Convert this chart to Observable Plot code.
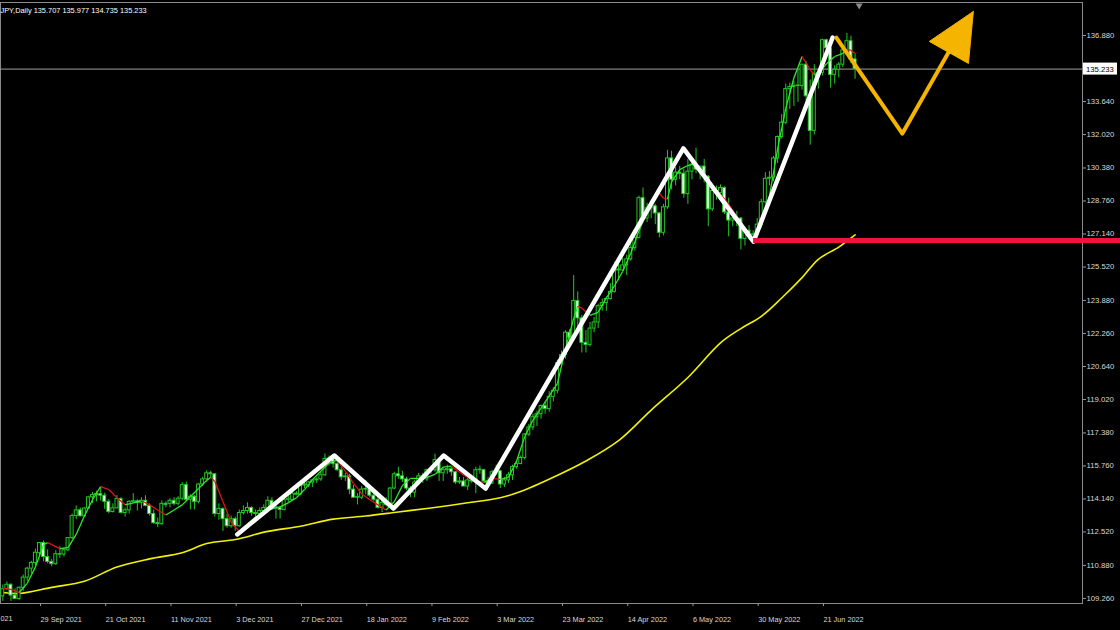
<!DOCTYPE html>
<html><head><meta charset="utf-8">
<script src="https://cdn.jsdelivr.net/npm/d3@7"></script>
<script src="https://cdn.jsdelivr.net/npm/@observablehq/plot@0.6"></script>
<style>
html,body{margin:0;padding:0;background:#000;overflow:hidden}
#chart{width:1120px;height:630px}
</style></head><body><div id="chart"></div>
<script>
// ---- header ----
const symbolLabel = "JPY,Daily";
const headerOHLC = [135.707, 135.977, 134.735, 135.233];
const currentPrice = 135.233;

// ---- daily candles (bar index = position in arrays) ----
const opens = [109.36,109.71,109.93,109.40,109.23,109.78,110.28,110.72,111.00,
111.48,111.98,111.29,111.05,110.94,111.43,111.41,111.62,112.22,113.30,113.58,113.29,113.67,114.22,114.33,114.38,
114.30,114.00,113.50,113.68,114.14,113.45,113.58,114.00,114.02,113.95,114.05,113.80,113.40,112.95,112.90,113.90,
113.90,114.05,113.90,114.15,114.82,114.10,114.25,114.00,114.85,115.10,115.40,115.35,113.40,113.65,113.15,112.80,
113.15,112.80,113.45,113.55,113.70,113.45,113.40,113.55,113.70,114.05,113.70,113.70,113.60,114.10,114.10,114.40,
114.35,114.85,114.80,114.95,115.05,115.10,115.30,116.10,116.10,115.85,115.55,115.20,115.25,114.60,114.20,114.20,
114.60,114.60,114.30,114.10,113.70,113.95,113.85,114.65,115.35,115.25,115.10,114.65,114.45,114.95,115.25,115.10,
115.55,115.55,116.05,115.40,115.55,115.60,115.45,114.95,115.00,114.75,115.05,115.00,115.55,115.55,115.00,114.90,
115.45,115.50,114.85,115.05,115.30,115.70,115.85,116.15,117.30,117.65,118.15,118.30,118.70,118.55,119.15,119.45,
120.80,121.20,122.30,122.05,123.85,123.00,121.80,121.70,122.50,122.80,123.60,123.75,123.95,124.30,125.40,125.35,
125.60,125.90,126.45,126.95,128.90,127.90,128.40,128.50,128.15,127.20,128.45,130.85,129.80,130.15,130.10,129.10,
130.20,130.55,130.30,130.45,129.95,128.35,129.25,129.15,129.40,128.20,127.80,127.90,127.90,126.90,127.30,127.10,
127.10,127.60,128.70,129.85,129.90,130.85,131.90,132.60,134.25,134.35,134.40,134.40,135.45,133.90,132.20,135.00,
135.05,136.65,136.25,134.95,135.20,135.45,136.15,136.60,135.707];
const highs = [109.92,110.07,109.97,109.73,109.82,110.41,110.79,111.08,111.68,
112.00,112.08,111.65,111.18,111.60,111.80,111.75,112.25,113.40,113.80,113.70,113.71,114.27,114.46,114.52,114.70,
114.42,114.10,113.90,114.30,114.20,113.70,114.05,114.40,114.10,114.20,114.30,113.90,113.60,113.20,114.05,114.00,
114.15,114.20,114.25,114.95,114.97,114.35,114.30,114.90,115.20,115.52,115.50,115.38,113.90,113.70,113.40,113.30,
113.25,113.60,113.80,113.95,113.75,113.60,113.70,113.85,114.25,114.20,113.85,113.75,114.20,114.35,114.50,114.50,
114.90,114.95,115.00,115.10,115.20,115.45,116.35,116.25,116.20,116.05,115.70,115.40,115.35,114.80,114.40,114.75,
115.05,114.80,114.60,114.20,114.05,114.20,114.70,115.45,115.70,115.50,115.20,114.75,115.05,115.40,115.40,115.60,
115.70,116.34,116.15,115.70,115.80,115.70,115.50,115.20,115.20,115.15,115.25,115.70,115.75,115.60,115.20,115.55,
115.80,115.55,115.20,115.45,115.80,116.00,116.25,117.35,117.80,118.30,118.45,118.75,118.90,119.40,119.60,120.95,
121.40,122.40,122.45,125.10,124.30,123.15,122.40,122.80,123.05,123.70,123.95,124.05,124.70,125.75,125.65,125.95,
126.10,126.70,127.10,129.00,129.40,128.65,128.80,128.60,128.20,128.60,131.25,131.20,130.40,130.45,130.30,130.80,
130.80,131.35,130.45,130.80,130.00,129.40,129.50,129.55,129.45,128.90,128.30,128.25,127.95,127.40,127.55,127.30,
127.90,128.85,130.15,130.20,130.95,131.95,133.00,134.50,134.55,134.65,135.20,135.45,135.60,134.70,135.45,135.15,
136.70,136.70,136.30,135.40,135.55,136.40,136.98,136.85,135.977];
const lows = [109.11,109.68,109.11,109.27,109.15,109.59,110.10,110.46,110.86,
111.33,111.05,110.96,110.81,110.88,111.22,111.29,111.55,112.15,113.12,113.26,113.23,113.63,113.91,114.00,114.03,
113.63,113.41,113.45,113.65,113.40,113.25,113.40,113.90,113.55,113.65,113.75,113.30,112.90,112.73,112.85,113.70,
113.70,113.80,113.80,114.05,114.00,113.60,113.60,113.90,114.75,114.95,115.15,113.25,113.10,112.55,112.70,112.70,
112.55,112.75,113.35,113.40,113.30,113.20,113.30,113.50,113.55,113.60,113.15,113.15,113.55,113.95,114.05,114.30,
114.30,114.65,114.70,114.70,114.90,115.00,115.25,115.75,115.65,115.50,115.05,115.00,114.35,114.20,113.85,114.10,
114.35,114.20,114.00,113.65,113.47,113.75,113.80,114.60,115.10,114.95,114.55,114.20,114.20,114.80,114.90,115.00,
115.35,115.45,115.00,115.00,115.35,115.25,114.85,114.85,114.75,114.55,114.90,114.40,115.35,114.95,114.70,114.85,
115.30,114.65,114.70,114.90,115.05,115.60,115.85,116.05,117.20,117.50,117.70,118.05,118.30,118.40,118.90,119.30,
120.60,121.00,121.60,121.90,122.45,121.30,121.30,121.60,122.30,122.50,123.35,123.35,123.90,124.25,124.85,125.30,
125.10,125.80,126.30,126.90,127.80,127.70,127.90,127.60,126.95,127.05,128.35,129.30,129.50,129.80,128.90,128.60,
129.80,130.10,129.80,129.65,127.50,128.25,128.80,128.95,128.10,127.00,127.50,127.50,126.36,126.55,126.85,126.70,
127.00,127.50,128.60,129.50,129.70,130.60,131.80,132.50,133.25,133.40,133.60,134.20,133.50,131.50,132.00,134.25,
134.90,135.85,134.30,134.50,134.80,135.30,136.00,135.50,134.735];
const closes = [109.71,109.93,109.40,109.23,109.78,110.28,110.72,111.00,111.50,
111.98,111.29,111.05,110.94,111.43,111.41,111.62,112.22,113.30,113.58,113.29,113.67,114.22,114.33,114.38,114.30,
114.00,113.50,113.68,114.14,113.45,113.58,114.00,114.02,113.95,114.05,113.80,113.40,112.95,112.90,113.90,113.85,
114.05,113.90,114.15,114.82,114.10,114.25,114.00,114.85,115.10,115.40,115.35,113.40,113.65,113.15,112.80,113.15,
112.80,113.45,113.55,113.70,113.45,113.40,113.55,113.70,114.05,113.70,113.70,113.60,114.10,114.10,114.40,114.35,
114.85,114.80,114.95,115.05,115.10,115.30,116.10,116.10,115.85,115.55,115.20,115.25,114.60,114.20,114.20,114.60,
114.60,114.30,114.10,113.70,113.95,113.85,114.65,115.35,115.25,115.10,114.65,114.45,114.95,115.25,115.10,115.55,
115.55,116.05,115.40,115.55,115.60,115.45,114.95,115.00,114.75,115.05,115.00,115.55,115.55,115.00,114.90,115.45,
115.50,114.85,115.05,115.30,115.70,115.85,116.15,117.30,117.65,118.15,118.30,118.70,118.55,119.15,119.45,120.80,
121.20,122.30,122.05,123.85,123.00,121.80,121.70,122.50,122.80,123.60,123.75,123.95,124.30,125.40,125.35,125.60,
125.90,126.45,126.95,128.90,127.90,128.40,128.50,128.15,127.20,128.45,130.85,129.80,130.15,130.10,129.10,130.20,
130.55,130.30,130.45,129.95,128.35,129.25,129.15,129.40,128.20,127.80,127.90,127.90,126.90,127.30,127.10,127.10,
127.60,128.70,129.85,129.90,130.85,131.90,132.60,134.25,134.35,134.40,134.40,135.45,133.90,132.20,135.00,135.05,
136.65,136.25,134.95,135.20,135.45,136.15,136.60,135.70,135.233];

// ---- fast smoothed average (green rising / red falling) ----
const fastIdx = [0,2,4,6,8,10,11,12,14,16,18,20,22,24,26,28,30,32,34,36,38,40,42,44,46,48,50,51,52,54,56,58,60,62,64,66,68,70,72,74,76,78,80,82,84,86,88,90,92,94,96,98,100,102,104,106,108,110,112,114,116,118,120,122,124,126,128,130,132,134,136,138,140,141,142,144,146,148,150,152,154,156,158,160,161,162,163,164,166,168,170,172,174,176,178,180,182,184,186,188,190,192,194,196,198,199,200,202,204,206,207,208,209];
const fastVal = [109.75,109.7,109.55,110.0,110.8,111.9,112.0,111.9,111.7,111.75,112.4,113.3,114.1,114.75,114.6,114.2,113.85,113.95,114.05,113.85,113.6,113.35,113.6,113.85,114.25,114.65,115.05,115.2,115.0,114.0,113.0,112.55,112.9,113.25,113.5,113.65,113.75,113.95,114.2,114.6,115.1,115.5,115.9,116.05,115.5,114.9,114.4,114.1,113.85,113.6,114.0,114.8,115.15,115.15,115.2,115.35,115.7,115.75,115.45,115.2,115.0,114.95,115.15,115.1,115.2,116.0,117.2,118.0,118.6,119.2,119.8,121.5,123.0,123.6,123.5,123.15,123.3,124.0,124.6,125.3,126.2,127.3,128.2,129.0,129.15,128.9,128.85,129.7,130.3,130.5,130.6,130.1,129.5,129.1,128.6,128.0,127.3,126.9,127.5,129.0,131.3,133.3,134.8,135.85,135.2,134.95,135.0,135.5,135.85,136.0,136.2,136.15,136.0];

// ---- slow average (yellow) ----
const slowIdx = [0,4,12,20,28,36,44,50,57,65,73,81,89,97,105,114,122,127,135,143,151,159,168,176,181,186,191,196,200,205,209];
const slowVal = [109.55,109.5,109.8,110.1,110.8,111.2,111.5,111.95,112.15,112.55,112.8,113.15,113.3,113.5,113.7,113.95,114.2,114.5,115.2,116.0,117.0,118.5,120.1,121.8,122.5,123.1,124.0,125.0,125.9,126.5,127.1];

// ---- hand-drawn annotations (bar index, price) ----
const zigIdx = [57.5,81.3,95.8,108.1,118.4,166.9,184.1,203.5];
const zigVal = [112.40,116.27,113.67,116.27,114.65,131.34,126.77,136.78];
const supportLevel = 126.82, supportFrom = 184.1, supportTo = 275;
const projIdx = [204.4,220.6,231.9];
const projVal = [136.78,132.07,136.05];
const headIdx = [238.0,227.2,236.8,238.0];
const headVal = [138.06,136.59,135.51,138.06];
const shiftMarkerIdx = 210;

// ---- axes ----
const priceTicks = [109.26,110.88,112.52,114.14,115.76,117.38,119.02,120.64,122.26,123.88,125.52,127.14,128.76,130.38,132.02,133.64,136.88];
const firstDateStub = "021";
const dateTickIdx = [9,25,41,57,73,89,105,121,137,153,169,185,201];
const dateTickLabels = ["29 Sep 2021","21 Oct 2021","11 Nov 2021","3 Dec 2021","27 Dec 2021","18 Jan 2022","9 Feb 2022","3 Mar 2022","23 Mar 2022","14 Apr 2022","6 May 2022","30 May 2022","21 Jun 2022"];

// ---- build tables ----
const bars = opens.map((o,i)=>({i, o, h:highs[i], l:lows[i], c:closes[i]}));
const fastSegs = fastIdx.slice(1).map((x,k)=>({x1:fastIdx[k], y1:fastVal[k], x2:x, y2:fastVal[k+1], up: fastVal[k+1] >= fastVal[k]}));
const slowPts = slowIdx.map((x,k)=>({x, y:slowVal[k]}));
const zigPts = zigIdx.map((x,k)=>({x, y:zigVal[k]}));
const projPts = projIdx.map((x,k)=>({x, y:projVal[k]}));
const headPts = headIdx.map((x,k)=>({x, y:headVal[k]}));

const CANDLE = "#22c822", BEAR_FILL = "#f4fff4";
const FONT = "Liberation Sans, Arial, sans-serif";

const plot = Plot.plot({
  width: 1120, height: 630,
  marginTop: 2, marginRight: 38, marginBottom: 27, marginLeft: 0,
  style: {background: "#000", color: "#d8d8d8", fontFamily: FONT},
  x: {domain: [-0.56, 264.77]},
  y: {domain: [109.01, 138.50]},
  marks: [
    Plot.frame({stroke: "#8a8a8a"}),
    Plot.ruleY([currentPrice], {stroke: "#a0a0a0", strokeWidth: 1}),
    Plot.line(slowPts, {x: "x", y: "y", stroke: "#f2f200", strokeWidth: 1.6, curve: "catmull-rom"}),
    Plot.ruleX(bars, {x: "i", y1: "l", y2: "h", stroke: CANDLE, strokeWidth: 1}),
    Plot.rect(bars, {x1: d => d.i - 0.36, x2: d => d.i + 0.36, y1: "o", y2: d => (Math.abs(d.c - d.o) < 0.02 ? d.o + 0.03 : d.c),
      fill: d => d.c >= d.o ? "#000" : BEAR_FILL, stroke: CANDLE, strokeWidth: 1}),
    Plot.link(fastSegs, {x1: "x1", y1: "y1", x2: "x2", y2: "y2", stroke: d => d.up ? "#2ee82e" : "#e01414", strokeWidth: 1.3}),
    Plot.line(zigPts, {x: "x", y: "y", stroke: "#ffffff", strokeWidth: 4.5}),
    Plot.ruleY([{y: supportLevel, x1: supportFrom, x2: supportTo}], {y: "y", x1: "x1", x2: "x2", stroke: "#f0143c", strokeWidth: 5}),
    Plot.line(projPts, {x: "x", y: "y", stroke: "#f5b400", strokeWidth: 4}),
    Plot.line(headPts, {x: "x", y: "y", stroke: "#f5b400", fill: "#f5b400", strokeWidth: 1}),
    Plot.dot([shiftMarkerIdx], {x: d => d, frameAnchor: "top", symbol: "triangle", r: 2.6, rotate: 180, fill: "#8a8a8a", stroke: null, dy: 3}),
    Plot.axisY(priceTicks, {anchor: "right", tickSize: 3, tickPadding: 1, tickFormat: d => d.toFixed(3), fontSize: 7.7, stroke: "#9a9a9a"}),
    Plot.axisX(dateTickIdx, {anchor: "bottom", tickSize: 3, tickPadding: 10, textAnchor: "start", dx: 1,
      tickFormat: d => dateTickLabels[dateTickIdx.indexOf(d)], fontSize: 7.3, stroke: "#9a9a9a"}),
    Plot.text([firstDateStub], {frameAnchor: "bottom-left", dy: 17, dx: 0, fill: "#d8d8d8", fontSize: 7.3, textAnchor: "start"}),
    Plot.text([`${symbolLabel} ${headerOHLC.map(v => v.toFixed(3)).join(" ")}`], {frameAnchor: "top-left", dx: 0, dy: 5, fill: "#ffffff", fontSize: 7.4, textAnchor: "start"})
  ]
});
document.getElementById("chart").appendChild(plot);

// current price tag on the right axis
const svg = d3.select(plot);
const yPx = plot.scale("y").apply(currentPrice);
const xR = plot.scale("x").range[1];
const g = svg.append("g").attr("text-anchor", "start");
g.append("rect").attr("x", xR + 1).attr("y", yPx - 6).attr("width", 34).attr("height", 12).attr("fill", "#ffffff");
g.append("text").attr("x", xR + 4).attr("y", yPx + 3).attr("fill", "#000").attr("font-size", 7.7).attr("font-family", FONT).attr("text-anchor", "start").text(currentPrice.toFixed(3));
</script></body></html>
